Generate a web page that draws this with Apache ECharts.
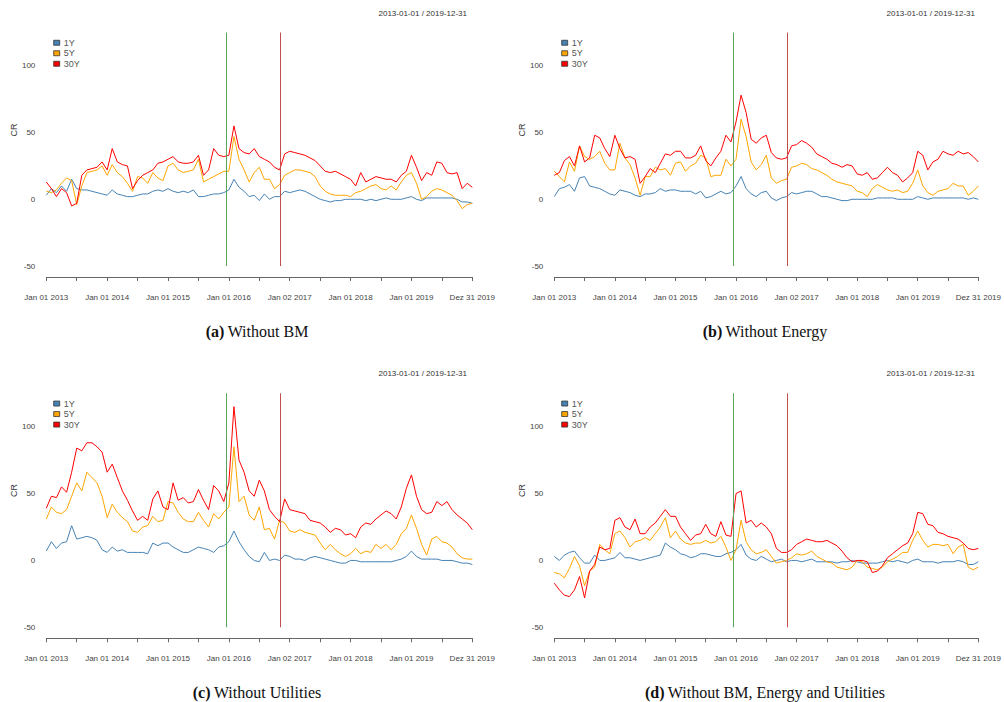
<!DOCTYPE html>
<html><head><meta charset="utf-8">
<script src="https://cdn.jsdelivr.net/npm/echarts@6/dist/echarts.min.js"></script>
<style>html,body{margin:0;padding:0;background:#fff}#c{width:1004px;height:702px}</style>
</head><body><div id="c"></div>
<script>
// ---- data (monthly observations, Jan 2013 .. Dec 31 2019; index i -> i months after start) ----
const seriesNames = ['1Y', '5Y', '30Y'];
const seriesColors = ['#4682B4', '#FFA500', '#FF0000'];
const startDate = '2013-01-01';
const xTickLabels = ['Jan 01 2013', 'Jan 01 2014', 'Jan 01 2015', 'Jan 01 2016', 'Jan 02 2017', 'Jan 01 2018', 'Jan 01 2019', 'Dez 31 2019'];
const yTickValues = [-50, 0, 50, 100];
const eventDates = ['2015-12-16', '2016-11-08'];
const eventColors = ['#5aa35a', '#c24d4d'];
const dateRangeText = '2013-01-01 / 2019-12-31';
const panelCaptions = ['(a)|Without BM', '(b)|Without Energy', '(c)|Without Utilities', '(d)|Without BM, Energy and Utilities'];

// (a) Without BM
const a1Y = [3,8,5,10,6,15,8,7,7,6, 5,4,3,7,4,3,2,2,3,4, 4,6,7,6,8,6,5,6,5,7, 2,2,3,4,4,5,7,15,9,6, 2,3,-1,4,0,2,2,6,5,6, 7,6,4,2,0,-1,-2,-1,-1,0, 0,0,0,-1,0,-1,0,1,0,0, 0,1,2,0,-1,1,1,1,1,1, 1,0,-2,-2,-3];
const a5Y = [6,5,7,12,16,14,-4,10,20,21, 22,25,18,26,20,17,12,6,17,16, 12,20,16,14,25,27,22,20,21,22, 30,13,15,17,19,21,21,47,30,22, 13,20,24,15,15,8,11,18,20,22, 22,21,20,17,10,6,4,3,3,3, 2,5,6,8,10,11,8,7,10,7, 13,18,20,12,0,2,6,8,7,5, 3,-1,-7,-4,-3];
const a30Y = [13,8,2,8,5,-5,-3,18,22,23, 24,28,22,38,28,26,25,8,14,18, 20,22,27,28,30,32,28,27,27,28, 33,18,22,38,33,32,33,55,38,35, 34,38,32,30,28,24,22,34,36,35, 34,33,31,29,25,21,20,21,19,17, 15,10,20,13,15,17,16,15,15,13, 18,21,33,24,14,20,18,28,27,20, 19,20,8,12,9];
// (b) Without Energy
const b1Y = [2,8,9,11,6,16,17,10,9,8, 6,4,3,7,6,5,3,2,4,4, 5,8,6,7,7,6,6,6,4,6, 1,2,4,6,4,5,10,17,8,4, 2,5,6,1,-1,1,2,5,4,5, 6,6,4,2,2,1,0,-1,-1,0, 0,0,0,0,1,1,1,1,0,0, 0,0,2,1,0,1,1,1,1,1, 1,1,0,1,0];
const b5Y = [21,17,13,28,21,40,32,30,32,36, 27,22,22,42,31,26,16,3,17,17, 24,22,23,18,27,28,21,25,27,33, 31,17,18,18,30,25,30,60,47,28, 22,26,33,16,12,14,15,24,25,27, 26,23,22,20,18,15,13,12,11,10, 6,5,2,8,11,9,7,6,7,5, 6,12,22,10,5,3,6,7,8,12, 10,10,3,6,10];
const b30Y = [18,20,29,32,25,40,28,31,48,46, 38,32,48,38,31,32,30,12,17,23, 20,27,34,33,36,36,31,31,33,40, 29,25,31,36,48,43,58,78,65,45, 42,46,48,35,31,30,31,40,41,44, 42,39,34,32,30,27,26,24,26,25, 19,18,20,15,16,20,24,20,18,13, 16,20,36,33,22,28,30,36,34,33, 36,34,35,32,28];
// (c) Without Utilities
const c1Y = [7,14,9,13,14,26,16,17,18,17, 15,8,6,10,7,8,6,6,6,6, 5,13,11,13,13,10,8,6,6,8, 10,9,8,6,10,11,14,22,14,8, 3,0,-1,6,0,1,0,4,3,1, 1,0,2,3,2,1,0,-1,-2,-2, 0,0,-1,-1,-1,-1,-1,-1,-1,0, 1,3,7,3,1,1,1,1,0,0, 0,-1,-2,-2,-3];
const c5Y = [31,40,36,35,38,48,58,52,66,62, 58,48,32,42,36,32,29,22,21,25, 26,33,29,30,44,43,36,31,29,29, 36,30,25,35,31,36,40,85,44,48, 34,30,40,23,24,16,30,28,22,21, 23,21,20,19,13,8,12,8,5,3, 5,9,5,7,6,12,9,12,8,12, 20,24,34,24,12,4,16,18,14,13, 10,5,2,1,1];
const c30Y = [39,48,47,55,51,66,84,82,88,88, 85,81,66,72,62,52,45,37,30,33, 30,46,52,40,38,58,45,47,43,44, 53,45,38,56,52,44,58,115,75,66, 52,48,60,52,38,33,29,46,38,37, 36,35,30,29,28,25,21,24,23,19, 20,17,25,28,27,31,34,37,35,31, 40,54,64,48,38,35,36,44,41,44, 38,34,31,28,23];
// (d) Without BM, Energy and Utilities
const d1Y = [3,0,4,6,7,2,-2,-2,4,0, 0,1,2,6,2,2,1,0,1,2, 3,4,13,10,8,5,4,2,3,5, 5,4,3,3,5,6,8,12,4,1, 0,3,1,-1,0,1,-1,0,0,-1, 0,1,-1,-1,-1,-1,-2,-1,-1,0, -1,-2,-2,-2,-2,-1,0,-1,0,-1, -2,0,1,-1,-1,-1,-2,-1,-1,-1, 0,-1,-3,-3,-1];
const d5Y = [-9,-10,-13,-6,3,-4,-19,-8,-5,12, 8,5,20,22,17,10,14,15,17,15, 20,25,32,17,22,16,13,12,13,13, 15,13,14,18,10,0,8,30,14,8, 5,6,8,3,-2,-1,0,2,5,4, 5,7,3,1,-1,-2,-5,-6,-7,-5, 0,-1,-5,-6,-7,-5,-1,1,3,6, 6,15,22,15,10,12,12,11,12,5, 10,12,-5,-7,-5];
const d30Y = [-17,-22,-26,-27,-22,-12,-28,-8,-3,10, 8,9,30,32,25,23,31,20,20,25, 28,33,38,33,33,25,20,15,19,20, 27,20,18,29,19,18,50,52,28,30, 25,28,25,20,9,6,6,8,12,14, 16,15,14,14,15,13,11,7,2,-1, 0,0,-1,-9,-8,-4,2,5,8,11, 13,20,36,35,27,26,21,20,18,17, 16,13,9,8,9];

const panelData = [[a1Y, a5Y, a30Y], [b1Y, b5Y, b30Y], [c1Y, c5Y, c30Y], [d1Y, d5Y, d30Y]];

// ---- layout ----
const panels = [
  {left: 46.3, top: 32.5, h: 233.5, ox: 0, oy: 0},
  {left: 554.3, top: 32.5, h: 233.5, ox: 508, oy: 0},
  {left: 46.3, top: 393.3, h: 234, ox: 0, oy: 360.5},
  {left: 554.3, top: 393.3, h: 234, ox: 508, oy: 360.5}
];
const W = 426;

function yearsSinceStart(d) {
  return (Date.parse(d) - Date.parse(startDate)) / (365.25 * 86400000);
}

const chart = echarts.init(document.getElementById('c'), null, {renderer: 'svg'});

const grid = [], xAxis = [], yAxis = [], series = [], legend = [], graphic = [];
panels.forEach((p, pi) => {
  grid.push({left: p.left, top: p.top, width: W, height: p.h, containLabel: false});
  xAxis.push({
    type: 'value', gridIndex: pi, min: 0, max: 7, interval: 0.5, offset: 11,
    axisLine: {show: true, onZero: false, lineStyle: {color: '#666', width: 1}},
    axisTick: {show: true, length: 4, lineStyle: {color: '#666'}},
    axisLabel: {
      formatter: v => (Math.abs(v - Math.round(v)) < 1e-9 ? xTickLabels[Math.round(v)] : ''),
      fontSize: 8, color: '#444', margin: 16, fontFamily: 'Liberation Sans, Arial, sans-serif',
      showMinLabel: true, showMaxLabel: true
    },
    splitLine: {show: false}
  });
  yAxis.push({
    type: 'value', gridIndex: pi, min: -50, max: 125, interval: 50,
    axisLine: {show: false}, axisTick: {show: false}, splitLine: {show: false},
    axisLabel: {
      formatter: v => (yTickValues.includes(v) ? String(v) : ''),
      fontSize: 8, color: '#444', margin: 11, fontFamily: 'Liberation Sans, Arial, sans-serif'
    }
  });
  panelData[pi].forEach((vals, k) => {
    const s = {
      type: 'line', name: seriesNames[k], xAxisIndex: pi, yAxisIndex: pi,
      data: vals.map((v, i) => [i / 12, v]),
      showSymbol: false, symbol: 'none', animation: false,
      lineStyle: {width: 1, color: seriesColors[k]}, itemStyle: {color: seriesColors[k]},
      z: 2 + k
    };
    if (k === 2) {
      s.markLine = {
        silent: true, symbol: ['none', 'none'], animation: false,
        label: {show: false},
        data: eventDates.map((d, j) => ({xAxis: yearsSinceStart(d), lineStyle: {color: eventColors[j], width: 1, type: 'solid', opacity: 1}}))
      };
    }
    series.push(s);
  });
  legend.push({
    data: seriesNames, left: p.left + 7, top: p.top + 5.5, orient: 'vertical',
    icon: 'rect', itemWidth: 6, itemHeight: 5, itemGap: 1, padding: 0, selectedMode: false,
    itemStyle: {borderColor: '#333', borderWidth: 0.8},
    textStyle: {fontSize: 9, lineHeight: 9.5, color: '#555', fontFamily: 'Liberation Sans, Arial, sans-serif', padding: [0, 0, 0, -1]}
  });
  // y label
  graphic.push({
    type: 'text', x: 14 + p.ox, y: 130 + p.oy, rotation: Math.PI / 2,
    style: {text: 'CR', font: '9px "Liberation Sans", Arial, sans-serif', fill: '#333', align: 'center', verticalAlign: 'middle', textAlign: 'center', textVerticalAlign: 'middle'}
  });
  // date range
  graphic.push({
    type: 'text', x: 467 + p.ox, y: 13.3 + p.oy,
    style: {text: dateRangeText, font: '8px "Liberation Sans", Arial, sans-serif', fill: '#333', align: 'right', verticalAlign: 'middle', textAlign: 'right', textVerticalAlign: 'middle'}
  });
  // caption
  const parts = panelCaptions[pi].split('|');
  graphic.push({
    type: 'text', x: 257 + p.ox, y: 331.5 + p.oy,
    style: {
      text: '{b|' + parts[0] + '} {n|' + parts[1] + '}',
      rich: {
        b: {fontFamily: '"Liberation Serif", serif', fontSize: 16, fontWeight: 'bold', fill: '#111', color: '#111'},
        n: {fontFamily: '"Liberation Serif", serif', fontSize: 16, fill: '#111', color: '#111'}
      },
      align: 'center', verticalAlign: 'middle', textAlign: 'center', textVerticalAlign: 'middle'
    }
  });
});

chart.setOption({
  animation: false,
  backgroundColor: '#fff',
  color: seriesColors,
  grid, xAxis, yAxis, series, legend, graphic
});
</script></body></html>
